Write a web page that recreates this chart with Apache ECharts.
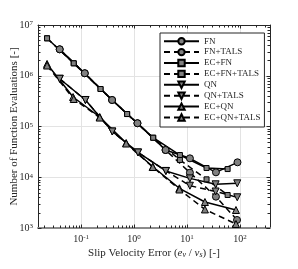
<!DOCTYPE html>
<html><head><meta charset="utf-8">
<script src="https://cdn.jsdelivr.net/npm/echarts@6/dist/echarts.min.js"></script>
<style>html,body{margin:0;padding:0;background:#fff}#c{width:298px;height:269px}</style>
</head><body><div id="c"></div>
<script>
// ---- data ----
const seriesNames = ['FN','FN+TALS','EC+FN','EC+FN+TALS','QN','QN+TALS','EC+QN','EC+QN+TALS'];
const fnX       = [0.0395,0.1175,0.385,1.16,3.94,11.35,35.2,89.8];
const fnY       = [3.32e6,1.12e6,3.33e5,1.16e5,3.44e4,2.36e4,1.25e4,1.97e4];
const fnTalsX   = [0.0395,0.1175,0.385,1.16,3.94,11.35,35.2,88.0];
const fnTalsY   = [3.32e6,1.12e6,3.33e5,1.16e5,3.44e4,1.23e4,4.14e3,1.44e3];
const ecFnX     = [0.0228,0.0727,0.233,0.741,2.30,7.35,23.4,58.5];
const ecFnY     = [5.47e6,1.76e6,5.48e5,1.76e5,6.01e4,2.74e4,1.52e4,1.45e4];
const ecFnTalsX = [0.0228,0.0727,0.233,0.741,2.30,7.35,23.4,58.5];
const ecFnTalsY = [5.47e6,1.76e6,5.48e5,1.76e5,6.01e4,2.19e4,9.1e3,4.47e3];
const qnX       = [0.0395,0.121,0.389,1.19,3.99,11.35,34.7,88.9];
const qnY       = [8.71e5,3.33e5,7.97e4,3.08e4,1.33e4,9.5e3,7.26e3,7.6e3];
const qnTalsX   = [0.0395,0.121,0.389,1.19,3.99,11.35,34.7,88.9];
const qnTalsY   = [8.71e5,3.33e5,7.97e4,3.08e4,1.33e4,6.81e3,5.24e3,4.03e3];
const ecQnX     = [0.0228,0.0706,0.225,0.710,2.26,7.18,21.8,84.0];
const ecQnY     = [1.71e6,3.81e5,1.54e5,4.73e4,1.61e4,6.06e3,3.25e3,2.26e3];
const ecQnTalsX = [0.0228,0.0727,0.225,0.710,2.26,7.18,21.8,84.0];
const ecQnTalsY = [1.59e6,3.48e5,1.50e5,4.62e4,1.59e4,5.74e3,2.32e3,1.20e3];
const xTickExps = [-1,0,1,2];
const yTickExps = [3,4,5,6,7];
const xTitle = 'Slip Velocity Error ({i|e}{sub|v} / {i|v}{sub|s}) [-]';
const yTitle = 'Number of Function Evaluations [-]';

// ---- styling ----
const SERIF = 'Liberation Serif';
const AX = '#262626';
const X_MIN = 0.01538, X_MAX = 369, Y_MIN = 1e3, Y_MAX = 1e7;
const DOWN = 'path://M0,0 L10,0 L5,10 Z';

function pairs(xs, ys){ return xs.map((x,i)=>[x, ys[i]]); }
function mkSeries(name, xs, ys, symbol, size, dashed){
  return {
    name, type:'line', data: pairs(xs, ys), symbol, symbolSize: size,
    xAxisIndex:0, yAxisIndex:0,
    lineStyle:{color:'#000', width:1.5, type: dashed ? [6,4] : 'solid'},
    itemStyle:{color:'#808080', borderColor:'#000', borderWidth:1},
    emphasis:{disabled:true}, animation:false, z:3
  };
}
const series = [
  mkSeries('FN', fnX, fnY, 'circle', 7, false),
  mkSeries('FN+TALS', fnTalsX, fnTalsY, 'circle', 7, true),
  mkSeries('EC+FN', ecFnX, ecFnY, 'rect', 5, false),
  mkSeries('EC+FN+TALS', ecFnTalsX, ecFnTalsY, 'rect', 5, true),
  mkSeries('QN', qnX, qnY, DOWN, 7, false),
  mkSeries('QN+TALS', qnTalsX, qnTalsY, DOWN, 7, true),
  mkSeries('EC+QN', ecQnX, ecQnY, 'triangle', 7, false),
  mkSeries('EC+QN+TALS', ecQnTalsX, ecQnTalsY, 'triangle', 7, true)
];

// log-style minor ticks (2..9 within each decade)
const xMinor = [], yMinor = [];
for (let e=-2;e<=2;e++) for (let m=2;m<=9;m++){ const v=m*Math.pow(10,e); if(v>X_MIN && v<X_MAX) xMinor.push([v, Y_MIN]); }
for (let e=3;e<=6;e++) for (let m=2;m<=9;m++){ yMinor.push([X_MIN, m*Math.pow(10,e)]); }
series.push({
  type:'custom', silent:true, animation:false, z:2, data:xMinor,
  renderItem:(p, api)=>{
    const v = api.value(0);
    const b = api.coord([v, Y_MIN]), t = api.coord([v, Y_MAX]);
    const x = Math.round(b[0])+0.5;
    return {type:'group', children:[
      {type:'line', shape:{x1:x,y1:b[1],x2:x,y2:b[1]-2.5}, style:{stroke:AX,lineWidth:1}},
      {type:'line', shape:{x1:x,y1:t[1],x2:x,y2:t[1]+2.5}, style:{stroke:AX,lineWidth:1}}
    ]};
  }
});
series.push({
  type:'custom', silent:true, animation:false, z:2, data:yMinor,
  renderItem:(p, api)=>{
    const v = api.value(1);
    const l = api.coord([X_MIN, v]), r = api.coord([X_MAX, v]);
    const y = Math.round(l[1])+0.5;
    return {type:'group', children:[
      {type:'line', shape:{x1:l[0],y1:y,x2:l[0]+2.5,y2:y}, style:{stroke:AX,lineWidth:1}},
      {type:'line', shape:{x1:r[0],y1:y,x2:r[0]-2.5,y2:y}, style:{stroke:AX,lineWidth:1}}
    ]};
  }
});

function labelFor(exps){
  return function(v){
    const e = Math.round(Math.log10(v));
    if (Math.abs(Math.log10(v)-e) > 1e-6 || exps.indexOf(e) < 0) return '';
    return '{b|10}{s|' + e + '}';
  };
}
const supRich = {
  b:{fontFamily:SERIF, fontSize:10, color:AX, lineHeight:10, verticalAlign:'bottom'},
  s:{fontFamily:SERIF, fontSize:7, color:AX, lineHeight:7, verticalAlign:'top', padding:[0,0,5,0]}
};
const gridLine = {show:true, lineStyle:{color:'#e3e3e3', width:1}};

const option = {
  animation:false,
  backgroundColor:'#fff',
  grid:{left:38, right:28, top:25, bottom:41, containLabel:false, outerBoundsMode:'none'},
  legend:{
    data: seriesNames, orient:'vertical', left:160, top:33,
    itemWidth:35, itemHeight:8, itemGap:1.9,
    padding:[3.7,4,5,3],
    borderColor:AX, borderWidth:1, backgroundColor:'#fff',
    textStyle:{fontFamily:SERIF, fontSize:9, color:AX, lineHeight:8},
    selectedMode:false
  },
  xAxis:[{
    type:'log', logBase:10, min:X_MIN, max:X_MAX, position:'bottom',
    axisLine:{show:true, lineStyle:{color:'#8a8a8a', width:2}},
    axisTick:{show:true, inside:true, length:3.5, lineStyle:{color:AX}},
    axisLabel:{show:true, margin:6, formatter:labelFor(xTickExps), rich:supRich, showMinLabel:false, showMaxLabel:false},
    splitLine:gridLine,
    name:xTitle, nameLocation:'middle', nameGap:19.5, nameMoveOverlap:false,
    nameTextStyle:{fontFamily:SERIF, fontSize:11, color:AX, lineHeight:11,
      rich:{
        i:{fontFamily:SERIF, fontSize:11, fontStyle:'italic', color:AX, lineHeight:11},
        sub:{fontFamily:SERIF, fontSize:8, fontStyle:'italic', color:AX, lineHeight:8, verticalAlign:'bottom', padding:[5,0,0,0]}
      }}
  },{
    type:'log', logBase:10, min:X_MIN, max:X_MAX, position:'top',
    axisLine:{show:true, lineStyle:{color:AX, width:1}},
    axisTick:{show:true, inside:true, length:3.5, lineStyle:{color:AX}},
    axisLabel:{show:false}, splitLine:{show:false}
  }],
  yAxis:[{
    type:'log', logBase:10, min:Y_MIN, max:Y_MAX, position:'left',
    axisLine:{show:true, lineStyle:{color:AX, width:1}},
    axisTick:{show:true, inside:true, length:3.5, lineStyle:{color:AX}},
    axisLabel:{show:true, margin:5, formatter:labelFor(yTickExps), rich:supRich},
    splitLine:gridLine,
    name:yTitle, nameLocation:'middle', nameGap:18, nameMoveOverlap:false,
    nameTextStyle:{fontFamily:SERIF, fontSize:11, color:AX}
  },{
    type:'log', logBase:10, min:Y_MIN, max:Y_MAX, position:'right',
    axisLine:{show:true, lineStyle:{color:AX, width:1}},
    axisTick:{show:true, inside:true, length:3.5, lineStyle:{color:AX}},
    axisLabel:{show:false}, splitLine:{show:false}
  }],
  series
};
const chart = echarts.init(document.getElementById('c'));
chart.setOption(option);
</script></body></html>
